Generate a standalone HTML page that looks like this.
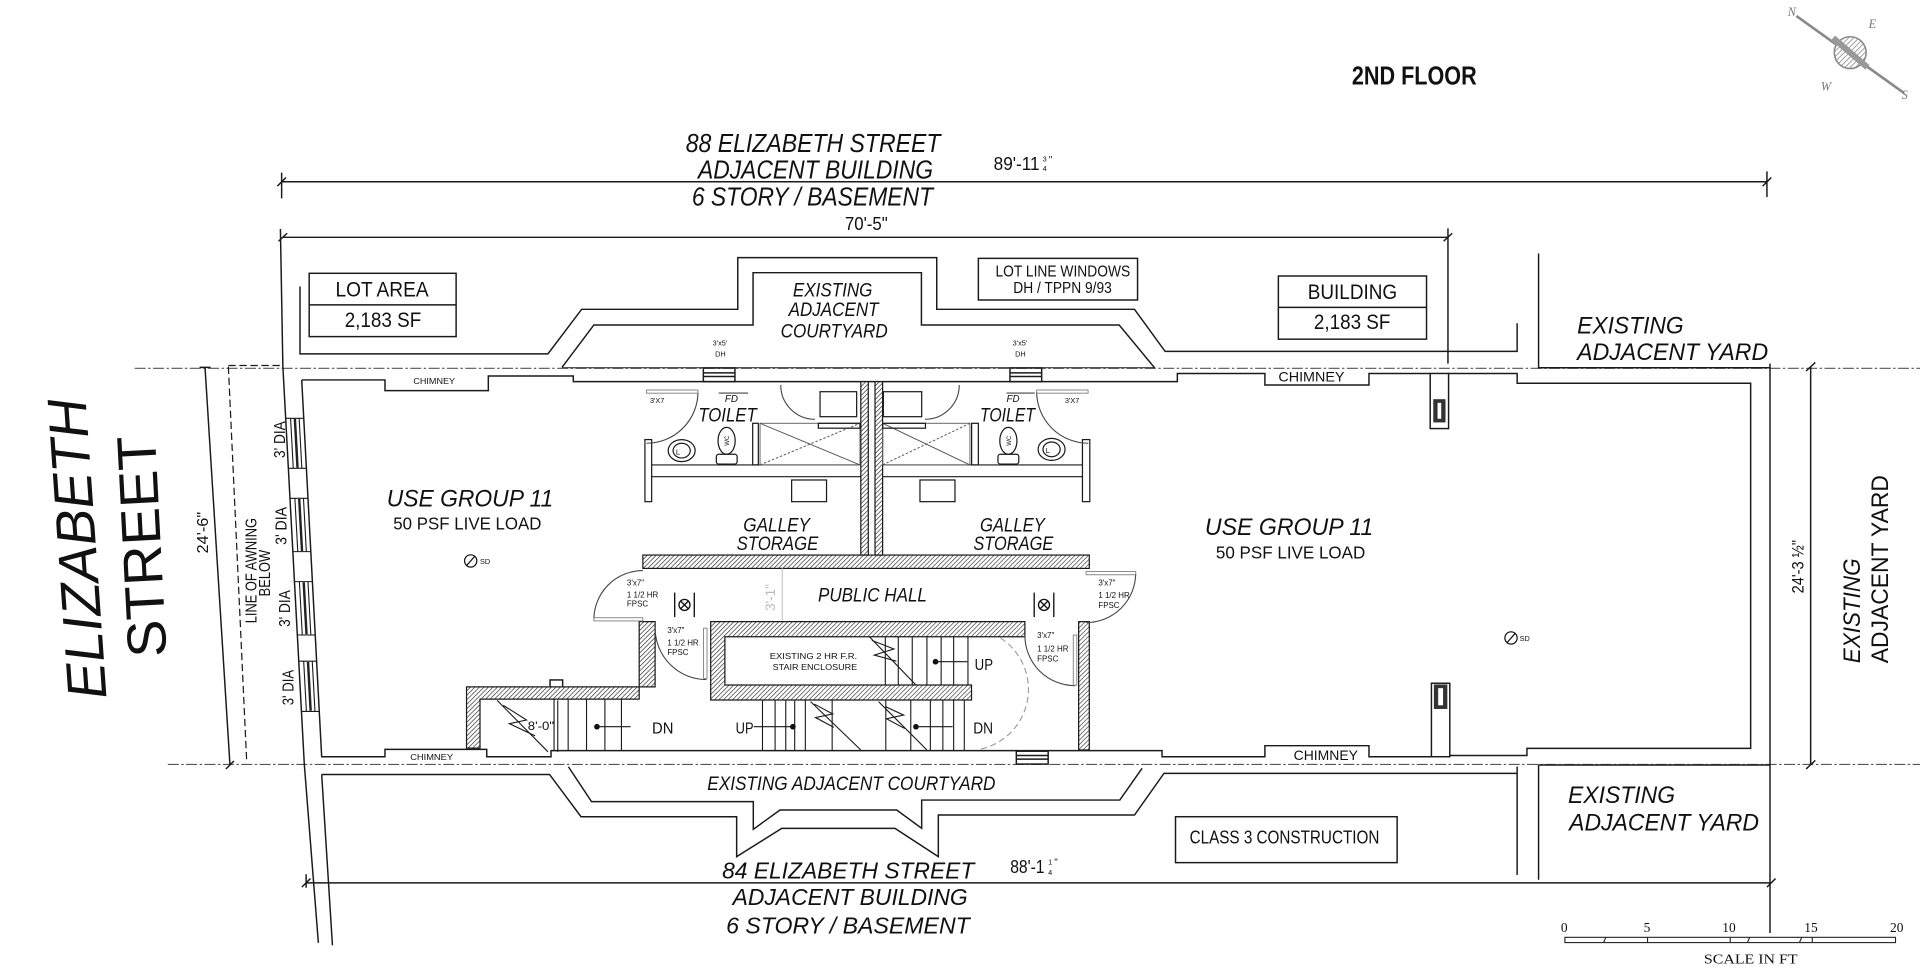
<!DOCTYPE html>
<html><head><meta charset="utf-8"><style>html,body{margin:0;padding:0;background:#fff;}svg{display:block}</style></head>
<body>
<svg xmlns="http://www.w3.org/2000/svg" width="1920" height="977" viewBox="0 0 1568 797.9" preserveAspectRatio="none" font-family="'Liberation Sans', Arial, sans-serif">
<defs>
<pattern id="h" patternUnits="userSpaceOnUse" width="2.6" height="2.6" patternTransform="rotate(45)"><rect width="2.6" height="2.6" fill="#fff"/><line x1="0" y1="0" x2="0" y2="2.6" stroke="#222" stroke-width="1"/></pattern>
<pattern id="hg" patternUnits="userSpaceOnUse" width="3" height="3" patternTransform="rotate(45)"><rect width="3" height="3" fill="#fff"/><line x1="0" y1="0" x2="0" y2="3" stroke="#888" stroke-width="1.3"/></pattern>
</defs>
<rect width="1568" height="797.9" fill="#fff"/>

<!-- lot lines -->
<path d="M110 300.8 H1568 M137 624.3 H1568" fill="none" stroke="#555" stroke-width="0.9" stroke-dasharray="9 2 2 2"/>

<g fill="none" stroke="#1a1a1a" stroke-width="1.2">
 <!-- dimension lines -->
 <path d="M230 148.4 H1443 M230 141 V162 M1443 140 V161 M226.5 152 L233.5 145 M1439.5 152 L1446.5 145"/>
 <path d="M231 193.8 H1182.5 M229 187 L231 299 L248.5 624 L260 770 M1182.5 186.5 V297 M227.5 197 L234.5 190.5 M1179 197 L1186 190.5"/>
 <path d="M250 721 H1446.5 M250 714 V725 M246.5 724.5 L253.5 717.5 M1443 724.5 L1450 717.5"/>
 <!-- left 24'-6 dim -->
 <path d="M167.4 299.4 L187.8 624.7 M163 300 H172 M184.5 628 L191 621.5"/>
 <path d="M186.5 298.5 H231 M186.5 299.4 L201.4 620.6" stroke-dasharray="6 3" stroke-width="1"/>
 <!-- right 24'-3 dim -->
 <path d="M1478.7 299.5 V624.8 M1475 303 L1482.5 296 M1475 628 L1482.5 621"/>

 <!-- upper adjacent building -->
 <path d="M245 234 V289 H447.5 L475 252.6 H602.5 V210.4 H765 V252.6 H926.5 L951.5 287 H1239 V264"/>
 <path d="M459 300 L485 265.4 H615 V222.7 H752.5 V265.4 H914 L943 300.5"/>
 <path d="M459 300.3 H943" stroke-width="0.8"/>
 <path d="M1256.5 207 V300.3 H1445.5 M1445.5 297 V762"/>

 <!-- lower adjacent building -->
 <path d="M262.7 632.5 L271.5 772 M262.7 632.5 H448.8 L474.5 667 H601.6 V699.6 L638.4 676.5 H730.9 L766.3 699.6 V665.6 H926.5 L950.6 631.6 H1239 M1239 626 V714.6 M1256.5 624.5 V718.5 M1256.5 624.8 H1445.5"/>
 <path d="M464.2 626.2 L483.1 654.7 H615.2 V677.3 L637 661.5 H732.3 L752.7 676.5 V653.4 H914.5 L932.7 627.5"/>

 <!-- building interior face -->
 <path d="M246.4 310.3 H314.4 V319 H398.8 V307.1 H468.2 V311.7 H961.5 V305 H1033 V314.4 H1118 V305 H1168 M1183 305 H1239 V313 H1429.7 V611.2 H1247 V617 H1184 M1169 618 H1118 V609 H1033 V618 H949 V613 H450 V618 H397.5 V612 H314.4 V618 H262.7 L246.4 310.3"/>

 <!-- boxes -->
 <rect x="252.5" y="223.2" width="120" height="51.7"/><path d="M252.5 249 H372.5"/>
 <rect x="1044" y="225.4" width="121" height="51.6"/><path d="M1044 251 H1165"/>
 <rect x="799" y="211" width="130" height="34"/>
 <rect x="960" y="667" width="181" height="37.5"/>

 <!-- columns -->
 <rect x="1168" y="305" width="15" height="45"/>
 <rect x="1169" y="558" width="15" height="60"/>

 <!-- windows -->
 <rect x="574.4" y="300.5" width="25.8" height="11.2"/><path d="M574.4 304.5 H600.2 M574.4 307.5 H600.2"/>
 <rect x="824.8" y="300.5" width="25.9" height="11.2"/><path d="M824.8 304.5 H850.7 M824.8 307.5 H850.7"/>
 <rect x="830" y="613.5" width="26" height="10.5"/><path d="M830 617 H856 M830 620 H856"/>
 <rect x="449.2" y="555.3" width="10.3" height="6"/>
</g>

<!-- column I beams -->
<g fill="#333"><rect x="1170.5" y="326" width="10" height="19"/><rect x="1171" y="559" width="11" height="20"/></g>
<g fill="#fff"><rect x="1174" y="329" width="3" height="13"/><rect x="1174.5" y="562" width="4" height="14"/></g>

<!-- facade windows (slanted group) -->
<g transform="matrix(1,0,0.054,1,-16.15,0)" fill="none" stroke="#1a1a1a" stroke-width="0.9">
 <path d="M231 341.6 H245.7 M231 382.5 H245.7 M231 407 H245.7 M231 450.5 H245.7 M231 475 H245.7 M231 518.6 H245.7 M231 540 H245.7 M231 581 H245.7"/>
 <path d="M235 341.6 V382.5 M242 341.6 V382.5 M235 407 V450.5 M242 407 V450.5 M235 475 V518.6 M242 475 V518.6 M235 540 V581 M242 540 V581"/>
 <path d="M238.5 342 V382 M238.5 407.5 V450 M238.5 475.5 V518 M238.5 540.5 V580.5" stroke="#222" stroke-width="2"/>
</g>

<!-- hatched walls -->
<g fill="url(#h)" stroke="#1a1a1a" stroke-width="1">
 <rect x="525" y="453.3" width="364.6" height="10.9"/>
 <rect x="703" y="311.7" width="6.1" height="141.6"/>
 <rect x="714.6" y="311.7" width="6.2" height="141.6"/>
 <path d="M381 561 H535 V507.7 H522 V571 H392 V611 H381 Z"/>
 <path d="M580.4 507.7 H837 V520 H592 V559.4 H793.4 V571.7 H580.4 Z"/>
 <rect x="880.9" y="507.7" width="8.7" height="104.8"/>
</g>

<!-- toilets / galley -->
<g fill="none" stroke="#1a1a1a" stroke-width="1">
 <rect x="526.7" y="359" width="5.5" height="50.7"/>
 <rect x="884" y="359" width="6" height="50.7"/>
 <path d="M532.2 379.7 H703 M532.2 389.3 H703 M720.8 379.7 H884 M720.8 389.3 H884"/>
 <rect x="614.7" y="345.7" width="4.6" height="34"/>
 <rect x="793.5" y="345.7" width="5.5" height="34"/>
 <rect x="620.7" y="345.7" width="81.6" height="34" stroke="#666" stroke-width="0.8"/>
 <rect x="720.8" y="345.7" width="71.3" height="34" stroke="#666" stroke-width="0.8"/>
 <path d="M620.7 345.7 L702.3 379.7 M720.8 345.7 L792.1 379.7" stroke="#555" stroke-width="0.8"/>
 <path d="M620.7 379.7 L702.3 345.7 M720.8 379.7 L792.1 345.7" stroke="#555" stroke-width="0.8" stroke-dasharray="2 1.5"/>
 <rect x="669.7" y="319.9" width="29.9" height="20.4"/>
 <rect x="721.4" y="319.9" width="31.3" height="20.4"/>
 <rect x="668.3" y="345.7" width="34" height="4"/>
 <rect x="720.8" y="345.7" width="35" height="4"/>
 <rect x="646.5" y="392" width="28.5" height="17.7"/>
 <rect x="751.3" y="392" width="28.6" height="17.7"/>
 <!-- fixtures -->
 <ellipse cx="556.7" cy="368" rx="11" ry="9"/><ellipse cx="556.7" cy="368" rx="7" ry="6"/>
 <ellipse cx="858.8" cy="367" rx="11" ry="9"/><ellipse cx="858.8" cy="367" rx="7" ry="6"/>
 <ellipse cx="593.4" cy="360" rx="7" ry="11"/><rect x="585" y="371" width="17" height="8" rx="2"/>
 <ellipse cx="823.5" cy="360" rx="7" ry="11"/><rect x="815" y="371" width="17" height="8" rx="2"/>
 <!-- doors -->
 <path d="M570 320 A42 42 0 0 1 528 362 M846.6 320 A42.2 42.2 0 0 0 888.8 362" stroke="#444" stroke-width="0.9"/>
 <path d="M637.6 314.4 A28 28 0 0 0 665.6 342.4 M783.4 314.4 A28 28 0 0 1 755.4 342.4" stroke="#444" stroke-width="0.9"/>
 <path d="M485 506 A40 40 0 0 1 525 466 M535 513 A42 42 0 0 0 577 555 M837 519 A41 41 0 0 0 878 560 M927.5 468 A40.5 40.5 0 0 1 887 508.5" stroke="#444" stroke-width="0.9"/>
 <path d="M817 521 A50 50 0 0 1 800 612" stroke="#999" stroke-width="0.9" stroke-dasharray="5 3"/>
</g>
<g fill="#fff" stroke="#777" stroke-width="0.7">
 <rect x="528" y="318.5" width="42" height="2.6"/><rect x="846.6" y="318.5" width="42" height="2.6"/>
 <rect x="485" y="504.5" width="40" height="2.6"/><rect x="574.6" y="513" width="2.8" height="41"/>
 <rect x="876.5" y="518.6" width="2.9" height="41"/><rect x="887" y="466.8" width="40.5" height="2.6"/>
</g>
<path d="M638.8 464 V507" stroke="#bbb" stroke-width="0.8"/>

<!-- exit signs -->
<g fill="none" stroke="#111" stroke-width="1.1">
 <circle cx="559" cy="494" r="4.5"/><path d="M555.8 490.8 L562.2 497.2 M562.2 490.8 L555.8 497.2 M551 484 V504 M567 484 V504"/>
 <circle cx="852.6" cy="494" r="4.5"/><path d="M849.4 490.8 L855.8 497.2 M855.8 490.8 L849.4 497.2 M844.6 484 V504 M860.6 484 V504"/>
</g>

<!-- stairs -->
<g fill="none" stroke="#1a1a1a" stroke-width="0.9">
 <path d="M452.5 571 V613 M464 571 V613 M479 571 V613 M494 571 V613 M507.5 571 V613"/>
 <path d="M406 572 L447.5 614 M411 576 L430 588 L416 591 L437 601 M455.5 572 V614"/>
 <path d="M487.5 593.5 H515"/>
 <path d="M622.7 571.7 V612.5 M633 571.7 V612.5 M641.7 571.7 V612.5 M649 571.7 V612.5 M657.7 571.7 V612.5 M679.6 571.7 V612.5 M723.4 571.7 V612.5 M743.8 571.7 V612.5 M759.8 571.7 V612.5 M770 571.7 V612.5 M778.8 571.7 V612.5 M787.5 571.7 V612.5"/>
 <path d="M662 573 L703 612.5 M717.5 573 L757 612.5 M665 575 L680 583 L666 586 L681 594 M723 577 L738 584 L724 587 L739 595"/>
 <path d="M615.5 593.5 H647.5 M748 593.5 H778"/>
 <path d="M723 520 V559.4 M733.6 520 V559.4 M745 520 V559.4 M757 520 V559.4 M768.6 520 V559.4 M778.8 520 V559.4 M790.5 520 V559.4"/>
 <path d="M710 520 L748 559.4 M712 523 L730 530 L714 535 L732 540 M764 540.4 H790"/>
</g>
<g fill="#111"><circle cx="487.5" cy="593.5" r="2.3"/><circle cx="647.5" cy="593.5" r="2.3"/><circle cx="748" cy="593.5" r="2.3"/><circle cx="764" cy="540.4" r="2.3"/></g>

<!-- SD symbols -->
<g fill="none" stroke="#111" stroke-width="1"><circle cx="384.4" cy="458.1" r="5"/><path d="M381 462 L388 454"/><circle cx="1234" cy="521" r="5"/><path d="M1230.6 525 L1237.6 517"/></g>

<!-- scale bar -->
<g fill="none" stroke="#222" stroke-width="0.9">
 <rect x="1278" y="765.5" width="270" height="4.3"/>
 <path d="M1311.5 765.5 L1309.5 769.8 M1345.5 765.5 V769.8 M1413 765.5 V769.8 M1429 765.5 L1427 769.8 M1471.5 765.5 L1469.5 769.8 M1480 765.5 V769.8"/>
</g>

<!-- compass -->
<g stroke="#8a8a8a" fill="none">
 <line x1="1467" y1="13" x2="1555" y2="76" stroke-width="2.2"/>
 <circle cx="1511" cy="43" r="13" fill="url(#hg)" stroke-width="1.3"/>
 <path d="M1497 31 L1525 55" stroke="#999" stroke-width="5"/>
</g>
<g fill="#777" font-family="'Liberation Serif', serif" font-style="italic" font-size="10">
 <text x="1460" y="13">N</text><text x="1526" y="23">E</text><text x="1487" y="74">W</text><text x="1553" y="81">S</text>
</g>

<!-- TEXT -->
<g fill="#111">
 <text x="1104" y="69" font-size="21" font-weight="bold" textLength="102" lengthAdjust="spacingAndGlyphs">2ND FLOOR</text>

 <g font-style="italic" font-size="21">
  <text x="560" y="124" textLength="208" lengthAdjust="spacingAndGlyphs">88 ELIZABETH STREET</text>
  <text x="570" y="145.6" textLength="192" lengthAdjust="spacingAndGlyphs">ADJACENT BUILDING</text>
  <text x="565" y="168" textLength="197" lengthAdjust="spacingAndGlyphs">6 STORY / BASEMENT</text>
  <text x="589.7" y="717.4" font-size="19" textLength="206" lengthAdjust="spacingAndGlyphs">84 ELIZABETH STREET</text>
  <text x="598.3" y="739" font-size="19" textLength="192" lengthAdjust="spacingAndGlyphs">ADJACENT BUILDING</text>
  <text x="593" y="762.3" font-size="19" textLength="199" lengthAdjust="spacingAndGlyphs">6 STORY / BASEMENT</text>
 </g>

 <text x="811.5" y="139" font-size="15" textLength="37.5" lengthAdjust="spacingAndGlyphs">89'-11</text>
 <text x="851.5" y="132" font-size="6">3</text><text x="851.5" y="139.5" font-size="6">4</text><text x="856.5" y="133" font-size="8">"</text>
 <text x="690" y="188" font-size="15" textLength="35" lengthAdjust="spacingAndGlyphs">70'-5"</text>
 <text x="825" y="713" font-size="15" textLength="28" lengthAdjust="spacingAndGlyphs">88'-1</text>
 <text x="856" y="706" font-size="6">1</text><text x="856" y="714.5" font-size="6">4</text><text x="861" y="707" font-size="8">"</text>

 <text x="274" y="242.3" font-size="17" textLength="76" lengthAdjust="spacingAndGlyphs">LOT AREA</text>
 <text x="281.5" y="267" font-size="17" textLength="62.5" lengthAdjust="spacingAndGlyphs">2,183 SF</text>
 <text x="1068" y="244.4" font-size="17" textLength="73" lengthAdjust="spacingAndGlyphs">BUILDING</text>
 <text x="1073" y="268.5" font-size="17" textLength="62.5" lengthAdjust="spacingAndGlyphs">2,183 SF</text>
 <text x="813" y="226" font-size="13" textLength="110" lengthAdjust="spacingAndGlyphs">LOT LINE WINDOWS</text>
 <text x="827.5" y="239.5" font-size="13" textLength="80.5" lengthAdjust="spacingAndGlyphs">DH / TPPN 9/93</text>

 <g font-style="italic" font-size="15.5">
  <text x="647.5" y="242.3" textLength="65" lengthAdjust="spacingAndGlyphs">EXISTING</text>
  <text x="644" y="258" textLength="73.5" lengthAdjust="spacingAndGlyphs">ADJACENT</text>
  <text x="637.5" y="275.5" textLength="87.5" lengthAdjust="spacingAndGlyphs">COURTYARD</text>
  <text x="577.6" y="645" textLength="235.4" lengthAdjust="spacingAndGlyphs">EXISTING ADJACENT COURTYARD</text>
  <text x="570.3" y="344.4" textLength="47.7" lengthAdjust="spacingAndGlyphs">TOILET</text>
  <text x="800.3" y="344.4" textLength="45" lengthAdjust="spacingAndGlyphs">TOILET</text>
  <text x="607" y="434.2" textLength="54.5" lengthAdjust="spacingAndGlyphs">GALLEY</text>
  <text x="601.6" y="449.2" textLength="66.7" lengthAdjust="spacingAndGlyphs">STORAGE</text>
  <text x="800.3" y="434.2" textLength="53" lengthAdjust="spacingAndGlyphs">GALLEY</text>
  <text x="794.9" y="449.2" textLength="65.3" lengthAdjust="spacingAndGlyphs">STORAGE</text>
  <text x="668" y="491.4" textLength="89" lengthAdjust="spacingAndGlyphs">PUBLIC HALL</text>
 </g>

 <g font-style="italic" font-size="20">
  <text x="1288" y="272.2" textLength="87" lengthAdjust="spacingAndGlyphs">EXISTING</text>
  <text x="1288" y="294" textLength="156" lengthAdjust="spacingAndGlyphs">ADJACENT YARD</text>
  <text x="1280.5" y="656" textLength="87.5" lengthAdjust="spacingAndGlyphs">EXISTING</text>
  <text x="1281.5" y="678.4" textLength="155" lengthAdjust="spacingAndGlyphs">ADJACENT YARD</text>
  <text x="315.8" y="413.8" textLength="136" lengthAdjust="spacingAndGlyphs">USE GROUP 11</text>
  <text x="984" y="437" textLength="137.5" lengthAdjust="spacingAndGlyphs">USE GROUP 11</text>
 </g>
 <text x="321.2" y="432.3" font-size="14.4" textLength="121" lengthAdjust="spacingAndGlyphs">50 PSF LIVE LOAD</text>
 <text x="993" y="456" font-size="14.4" textLength="122" lengthAdjust="spacingAndGlyphs">50 PSF LIVE LOAD</text>

 <text x="971.5" y="688.7" font-size="15" textLength="155" lengthAdjust="spacingAndGlyphs">CLASS 3 CONSTRUCTION</text>

 <!-- chimneys -->
 <text x="337.6" y="313.5" font-size="7" textLength="34" lengthAdjust="spacingAndGlyphs">CHIMNEY</text>
 <text x="335" y="620.5" font-size="7" textLength="35" lengthAdjust="spacingAndGlyphs">CHIMNEY</text>
 <text x="1044" y="311.7" font-size="11" textLength="54" lengthAdjust="spacingAndGlyphs">CHIMNEY</text>
 <text x="1056.5" y="620.7" font-size="11" textLength="52.5" lengthAdjust="spacingAndGlyphs">CHIMNEY</text>

 <!-- small labels -->
 <g font-size="6">
  <text x="582" y="282">3'x5'</text><text x="584" y="291">DH</text>
  <text x="827" y="282">3'x5'</text><text x="829" y="291">DH</text>
  <text x="530.8" y="329">3'X7</text><text x="869.7" y="329">3'X7</text>
  <text x="392" y="460.6">SD</text><text x="1241" y="523.5">SD</text>
  <text x="552" y="371">L</text><text x="854" y="370">L</text>
 </g>
 <g font-size="8" font-style="italic"><text x="592" y="328.5">FD</text><text x="822" y="328.5">FD</text></g>
 <path d="M587 321 H611 M822 321 H845" stroke="#111" stroke-width="0.8"/>
 <g font-size="6.5">
  <text x="512" y="478">3'x7"</text><text x="512" y="488">1 1/2 HR</text><text x="512" y="495.5">FPSC</text>
  <text x="545" y="517">3'x7"</text><text x="545" y="527">1 1/2 HR</text><text x="545" y="535">FPSC</text>
  <text x="847" y="521">3'x7"</text><text x="847" y="532">1 1/2 HR</text><text x="847" y="540.4">FPSC</text>
  <text x="897" y="478">3'x7"</text><text x="897" y="488.5">1 1/2 HR</text><text x="897" y="496.5">FPSC</text>
  <text x="628.6" y="538" textLength="71.4" lengthAdjust="spacingAndGlyphs">EXISTING 2 HR F.R.</text>
  <text x="631" y="547" textLength="69" lengthAdjust="spacingAndGlyphs">STAIR ENCLOSURE</text>
 </g>
 <g font-size="13">
  <text x="532.5" y="599" textLength="17.5" lengthAdjust="spacingAndGlyphs">DN</text>
  <text x="600.8" y="598.9" textLength="14.6" lengthAdjust="spacingAndGlyphs">UP</text>
  <text x="794.8" y="598.9" textLength="16.2" lengthAdjust="spacingAndGlyphs">DN</text>
  <text x="796" y="547" textLength="15" lengthAdjust="spacingAndGlyphs">UP</text>
 </g>
 <text x="431" y="596" font-size="10" textLength="21.5" lengthAdjust="spacingAndGlyphs">8'-0"</text>
 <text transform="translate(633,488) rotate(-90)" text-anchor="middle" font-size="11" fill="#bbb">3'-1"</text>

 <!-- rotated left -->
 <text transform="translate(87,570) rotate(-94)" font-size="45" font-style="italic" textLength="246" lengthAdjust="spacingAndGlyphs">ELIZABETH</text>
 <text transform="translate(136,536) rotate(-93)" font-size="45" textLength="181" lengthAdjust="spacingAndGlyphs">STREET</text>
 <text transform="translate(170,452) rotate(-90)" font-size="13" textLength="34" lengthAdjust="spacingAndGlyphs">24'-6"</text>
 <text transform="translate(209.6,509) rotate(-90)" font-size="12.5" textLength="86" lengthAdjust="spacingAndGlyphs">LINE OF AWNING</text>
 <text transform="translate(220.5,487) rotate(-90)" font-size="12.5" textLength="38" lengthAdjust="spacingAndGlyphs">BELOW</text>
 <g font-size="13">
  <text transform="translate(232.7,374) rotate(-90)" textLength="30" lengthAdjust="spacingAndGlyphs">3' DIA</text>
  <text transform="translate(234,445) rotate(-90)" textLength="31" lengthAdjust="spacingAndGlyphs">3' DIA</text>
  <text transform="translate(237,512) rotate(-90)" textLength="30" lengthAdjust="spacingAndGlyphs">3' DIA</text>
  <text transform="translate(239.5,576) rotate(-90)" textLength="29" lengthAdjust="spacingAndGlyphs">3' DIA</text>
 </g>

 <!-- rotated right -->
 <text transform="translate(1472.7,484.6) rotate(-90)" font-size="13.5" textLength="43.6" lengthAdjust="spacingAndGlyphs">24'-3 ½"</text>
 <text transform="translate(1519,541.7) rotate(-90)" font-size="20" font-style="italic" textLength="85.7" lengthAdjust="spacingAndGlyphs">EXISTING</text>
 <text transform="translate(1542,541.7) rotate(-90)" font-size="20" textLength="153.7" lengthAdjust="spacingAndGlyphs">ADJACENT YARD</text>

 <!-- scale -->
 <g font-family="'Liberation Serif', serif" font-size="11">
  <text x="1277.5" y="761" text-anchor="middle">0</text>
  <text x="1345" y="761" text-anchor="middle">5</text>
  <text x="1412" y="761" text-anchor="middle">10</text>
  <text x="1479" y="761" text-anchor="middle">15</text>
  <text x="1549" y="761" text-anchor="middle">20</text>
  <text x="1391.5" y="786.7" textLength="76.5" lengthAdjust="spacingAndGlyphs">SCALE IN FT</text>
 </g>
</g>
<!-- WC labels -->
<g font-size="5" fill="#111">
 <text transform="translate(595.5,364) rotate(-90)">WC</text>
 <text transform="translate(825.5,364) rotate(-90)">WC</text>
</g>
</svg>
</body></html>
